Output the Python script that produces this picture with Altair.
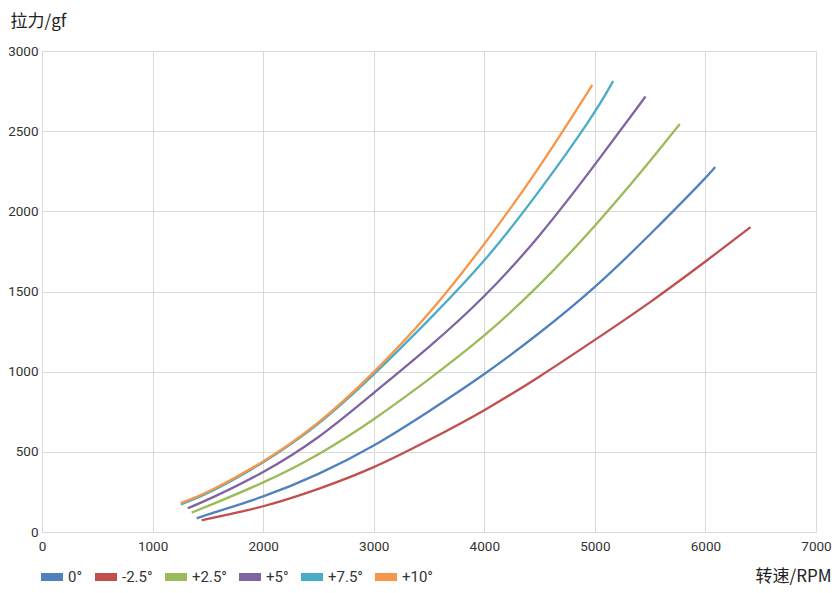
import altair as alt
import pandas as pd

series = ["0°", "-2.5°", "+2.5°", "+5°", "+7.5°", "+10°"]
colors = ["#4F81BD", "#C0504D", "#9BBB59", "#8064A2", "#4BACC6", "#F79646"]

rpm_0 = [1399, 1500, 2000, 2500, 3000, 3500, 4000, 4500, 5000, 5500, 6000, 6088]
gf_0 = [85, 110, 216, 357, 532, 752, 980, 1239, 1520, 1854, 2206, 2276]

rpm_m25 = [1444, 1500, 2000, 2500, 3000, 3500, 4000, 4500, 5000, 5500, 6000, 6408]
gf_m25 = [72, 82, 154, 266, 397, 572, 755, 967, 1198, 1430, 1686, 1901]

rpm_p25 = [1354, 1500, 2000, 2500, 3000, 3500, 4000, 4500, 5000, 5500, 5768]
gf_p25 = [121, 162, 304, 478, 698, 952, 1217, 1536, 1904, 2312, 2545]

rpm_p5 = [1318, 1500, 2000, 2500, 3000, 3500, 4000, 4500, 5000, 5458]
gf_p5 = [148, 200, 366, 580, 868, 1150, 1460, 1840, 2289, 2716]

rpm_p75 = [1255, 1500, 2000, 2500, 3000, 3500, 4000, 4500, 5000, 5166]
gf_p75 = [172, 237, 428, 663, 978, 1322, 1680, 2123, 2610, 2813]

rpm_p10 = [1255, 1500, 2000, 2500, 3000, 3500, 4000, 4500, 4977]
gf_p10 = [180, 245, 432, 670, 990, 1353, 1790, 2270, 2788]

x_ticks = [0, 1000, 2000, 3000, 4000, 5000, 6000, 7000]
y_ticks = [0, 500, 1000, 1500, 2000, 2500, 3000]

rows = []
for name, xs, ys in [
    ("0°", rpm_0, gf_0),
    ("-2.5°", rpm_m25, gf_m25),
    ("+2.5°", rpm_p25, gf_p25),
    ("+5°", rpm_p5, gf_p5),
    ("+7.5°", rpm_p75, gf_p75),
    ("+10°", rpm_p10, gf_p10),
]:
    for i, (a, b) in enumerate(zip(xs, ys)):
        rows.append({"series": name, "rpm": a, "gf": b, "i": i})
df = pd.DataFrame(rows)

label_font = "Roboto"
title_font = "Noto Sans CJK SC"

chart = (
    alt.Chart(df)
    .mark_line(strokeWidth=2.3, interpolate="basis")
    .encode(
        x=alt.X(
            "rpm:Q",
            scale=alt.Scale(domain=[0, 7000], nice=False),
            axis=alt.Axis(
                values=x_ticks,
                format="d",
                title="转速/RPM",
                titleFont=title_font,
                titleFontSize=17,
                titleFontWeight="normal",
                titleColor="#222222",
                titleAngle=0,
                titleAlign="right",
                titleBaseline="middle",
                titleAnchor="start",
                titleX=789,
                titleY=44,
                labelFont=label_font,
                labelFontSize=13.5,
                labelColor="#333333",
                labelPadding=7,
                ticks=False,
                domain=False,
                gridColor="#d9d9d9",
                gridWidth=1,
                labelFlush=False,
            ),
        ),
        y=alt.Y(
            "gf:Q",
            scale=alt.Scale(domain=[0, 3000], nice=False),
            axis=alt.Axis(
                values=y_ticks,
                format="d",
                title="拉力/gf",
                titleFont=title_font,
                titleFontSize=17,
                titleFontWeight="normal",
                titleColor="#222222",
                titleAngle=0,
                titleAlign="left",
                titleBaseline="middle",
                titleAnchor="start",
                titleX=-32,
                titleY=-30,
                labelFont=label_font,
                labelFontSize=13.5,
                labelColor="#333333",
                labelPadding=4,
                ticks=False,
                domain=False,
                gridColor="#d9d9d9",
                gridWidth=1,
            ),
        ),
        color=alt.Color(
            "series:N",
            scale=alt.Scale(domain=series, range=colors),
            sort=series,
            legend=alt.Legend(
                title=None,
                orient="none",
                legendX=-5,
                legendY=511,
                direction="horizontal",
                symbolType="stroke",
                symbolSize=484,
                symbolStrokeWidth=8,
                labelFont=label_font,
                labelFontSize=15,
                labelColor="#333333",
                labelOffset=1,
                columnPadding={"expr": "-4"},
            ),
        ),
        order="i:Q",
    )
    .properties(
        width=774,
        height=481,
        autosize=alt.AutoSizeParams(type="none"),
        padding={"left": 34, "top": 43, "right": 16, "bottom": 53},
    )
    .configure_view(stroke=None)
)

chart.save("out.html", embed_options={"renderer": "svg", "actions": False})
